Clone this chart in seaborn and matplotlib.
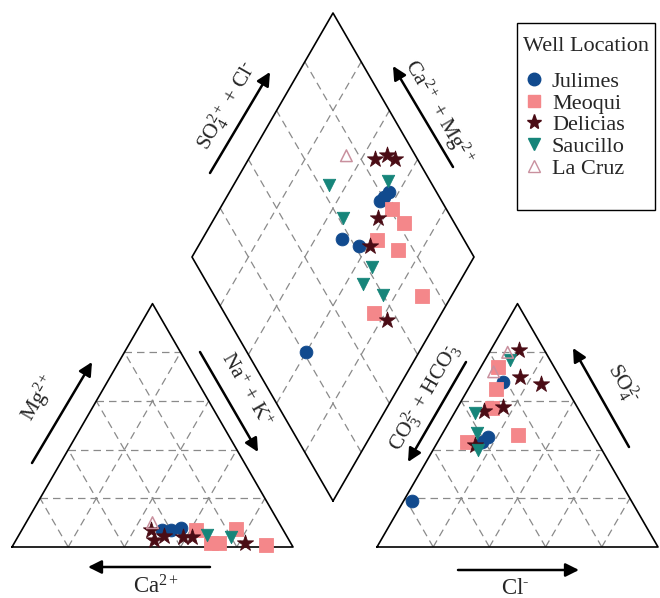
import numpy as np
import pandas as pd
import matplotlib
matplotlib.use('Agg')
import matplotlib.pyplot as plt
import seaborn as sns
from matplotlib.lines import Line2D
from matplotlib.patches import Rectangle

#%% data (percent, meq basis)
wells = ['Julimes', 'Meoqui', 'Delicias', 'Saucillo', 'La Cruz']

# cation triangle: Mg2+ and Na+ + K+
cat_well = ['La Cruz', 'Julimes', 'Julimes', 'Julimes', 'Delicias', 'Delicias',
            'Delicias', 'Delicias', 'Delicias', 'Delicias', 'Meoqui', 'Meoqui',
            'Meoqui', 'Meoqui', 'Meoqui', 'Saucillo', 'Saucillo']
cat_mg = [10, 7, 7, 8, 7, 3, 4.5, 4, 4, 1.5, 7, 1.5, 1.5, 7.5, 1, 5, 4]
cat_na = [45, 50, 53, 56, 46, 49, 52, 59, 62, 82, 62, 70, 73, 76, 90, 67, 76]

# anion triangle: SO4 2- and Cl-
an_well = ['Delicias', 'Saucillo', 'Meoqui', 'La Cruz', 'La Cruz', 'Julimes',
           'Delicias', 'Delicias', 'Meoqui', 'Delicias', 'Meoqui', 'Delicias',
           'Saucillo', 'Saucillo', 'Julimes', 'Julimes', 'Meoqui', 'Meoqui',
           'Delicias', 'Saucillo', 'Julimes']
an_so4 = [81, 77, 74, 72, 80, 68, 70, 67, 65, 57.5, 57, 56, 55, 47, 45, 43, 46,
          43, 42, 40, 19]
an_cl = [10, 9, 6, 5.5, 6.5, 11, 16, 25, 10, 16, 12.5, 10, 7.5, 12, 17, 16, 27,
         10.5, 14, 16, 3]

# diamond: Ca2+ + Mg2+ and SO4 + Cl
dia_well = ['La Cruz', 'Delicias', 'Delicias', 'Delicias', 'Saucillo', 'Saucillo',
            'Julimes', 'Julimes', 'Julimes', 'Meoqui', 'Meoqui', 'Meoqui',
            'Meoqui', 'Meoqui', 'Meoqui', 'Delicias', 'Delicias', 'Delicias',
            'Saucillo', 'Saucillo', 'Saucillo', 'Saucillo', 'Julimes',
            'Julimes', 'Julimes']
dia_camg = [66, 55, 52, 48, 66, 46, 43.5, 44, 45, 39, 32, 38, 28.5, 10.5, 24,
            42, 39, 18, 54.5, 34, 34, 24.5, 50.5, 43, 40]
dia_so4cl = [75.5, 85, 90, 92, 63.5, 85, 83, 80.5, 78, 80.5, 82, 69, 74.5, 73.5,
             53, 74, 65.5, 56, 61.5, 62, 55, 60, 57, 61.5, 21]

#%% geometry (pixel units of the figure)
L = 281.0
H = L * np.sqrt(3) / 2
cat0 = np.array([12.0, 547.0])
an0 = np.array([377.0, 547.0])
d_bot = np.array([333.0, 501.0])
d_left = np.array([192.0, 257.0])
d_right = np.array([474.0, 257.0])


def cation_xy(mg, na):
    mg = np.asarray(mg) / 100
    na = np.asarray(na) / 100
    return cat0[0] + L * (na + mg / 2), cat0[1] - H * mg


def anion_xy(so4, cl):
    so4 = np.asarray(so4) / 100
    cl = np.asarray(cl) / 100
    return an0[0] + L * (cl + so4 / 2), an0[1] - H * so4


def diamond_xy(camg, so4cl):
    b = np.asarray(camg)[..., None] / 100
    a = np.asarray(so4cl)[..., None] / 100
    p = d_bot + a * (d_right - d_bot) + b * (d_left - d_bot)
    return p[..., 0], p[..., 1]


cx, cy = cation_xy(cat_mg, cat_na)
ax_, ay_ = anion_xy(an_so4, an_cl)
dx, dy = diamond_xy(dia_camg, dia_so4cl)
df = pd.concat([
    pd.DataFrame({'well': cat_well, 'x': cx, 'y': cy}),
    pd.DataFrame({'well': an_well, 'x': ax_, 'y': ay_}),
    pd.DataFrame({'well': dia_well, 'x': dx, 'y': dy}),
], ignore_index=True)

#%% styling
sns.set_style('white')
plt.rcParams['font.family'] = ['Liberation Serif', 'DejaVu Serif']
plt.rcParams['mathtext.fontset'] = 'custom'
plt.rcParams['mathtext.rm'] = 'Liberation Serif'
plt.rcParams['mathtext.it'] = 'Liberation Serif:italic'

colors = {'Julimes': '#114a8e', 'Meoqui': '#f4878a', 'Delicias': '#4a0c15',
          'Saucillo': '#16857a', 'La Cruz': '#c9909e'}
markers = {'Julimes': 'o', 'Meoqui': 's', 'Delicias': '*', 'Saucillo': 'v',
           'La Cruz': '^'}
sizes = {'Julimes': 85, 'Meoqui': 95, 'Delicias': 150, 'Saucillo': 80,
         'La Cruz': 70}

fig = plt.figure(figsize=(6.6, 5.98), dpi=100)
ax = fig.add_axes([0, 0, 1, 1])
ax.set_xlim(0, 660)
ax.set_ylim(598, 0)
ax.axis('off')

grid_kw = dict(color='#8a8a8a', lw=0.9, dashes=(6, 4), zorder=1)
edge_kw = dict(color='k', lw=1.2, zorder=2)

# triangles
for f in (cation_xy, anion_xy):
    for k in (20, 40, 60, 80):
        x, y = f([k, k], [0, 100 - k])
        ax.plot(x, y, **grid_kw)
        x, y = f([0, 100 - k], [k, k])
        ax.plot(x, y, **grid_kw)
        x, y = f([0, 100 - k], [100 - k, 0])
        ax.plot(x, y, **grid_kw)
    x, y = f([0, 0, 100, 0], [0, 100, 0, 0])
    ax.plot(x, y, **edge_kw)

# diamond
for k in (20, 40, 60, 80):
    x, y = diamond_xy([k, k], [0, 100])
    ax.plot(x, y, **grid_kw)
    x, y = diamond_xy([0, 100], [k, k])
    ax.plot(x, y, **grid_kw)
x, y = diamond_xy([0, 100, 100, 0, 0], [0, 0, 100, 100, 0])
ax.plot(x, y, **edge_kw)

# points
for w in wells:
    sub = df[df['well'] == w]
    sns.scatterplot(data=sub, x='x', y='y', ax=ax, marker=markers[w],
                    s=sizes[w], color=colors[w], edgecolor=colors[w],
                    linewidth=0.6, legend=False, zorder=3)
    if w == 'La Cruz':
        pc = ax.collections[-1]
        pc.set_facecolor('none')
        pc.set_edgecolor(colors[w])
        pc.set_linewidth(1.1)


#%% arrows and labels
def arrow(tail, head):
    ax.annotate('', xy=head, xytext=tail,
                arrowprops=dict(arrowstyle='-|>', lw=1.8, color='k',
                                mutation_scale=20, shrinkA=0, shrinkB=0))


lab_kw = dict(ha='center', va='center', fontsize=15.5, rotation_mode='anchor')
bot_kw = dict(ha='center', va='baseline', fontsize=16.5)

arrow((32, 463), (92, 362))
ax.text(39, 398, r'Mg$^{2+}$', rotation=60, **lab_kw)
arrow((200, 352), (258, 452))
ax.text(246, 390, r'Na$^{+}$ + K$^{+}$', rotation=-60, **lab_kw)
arrow((210, 567), (88, 567))
ax.text(156, 594, r'Ca$^{2+}$', **bot_kw)

arrow((466, 362), (408, 462))
ax.text(425, 397, r'CO$_3^{2\text{-}}$ + HCO$_3^{\text{-}}$', rotation=60, **lab_kw)
arrow((629, 447), (573, 348))
ax.text(623, 383, r'SO$_4^{2\text{-}}$', rotation=-60, **lab_kw)
arrow((458, 570), (579, 570))
ax.text(515, 594, r'Cl$^{\text{-}}$', **bot_kw)

arrow((210, 173), (270, 72))
ax.text(227, 106, r'SO$_4^{2+}$ + Cl$^{\text{-}}$', rotation=60, **lab_kw)
arrow((453, 167), (393, 66))
ax.text(439, 112, r'Ca$^{2+}$ + Mg$^{2+}$', rotation=-60, **lab_kw)

#%% legend
handles = [Line2D([], [], ls='none', marker=markers[w],
                  markersize=9 if w != 'Delicias' else 11,
                  markerfacecolor='none' if w == 'La Cruz' else colors[w],
                  markeredgecolor=colors[w], markeredgewidth=1.0)
           for w in wells]
leg = ax.legend(handles, wells, title='Well Location', loc='upper left',
                bbox_to_anchor=(523 / 660, 1 - 37 / 598),
                bbox_transform=fig.transFigure, frameon=False,
                fontsize=16, title_fontsize=16,
                handletextpad=0.3, labelspacing=0.05, borderpad=0.0,
                handlelength=1.0, borderaxespad=0)
leg._legend_box.sep = 11
leg._legend_box.align = 'left'
ax.add_patch(Rectangle((517, 23), 138, 187, fill=False, ec='k', lw=1.0,
                       zorder=5))

fig.savefig('out.png', dpi=100)
